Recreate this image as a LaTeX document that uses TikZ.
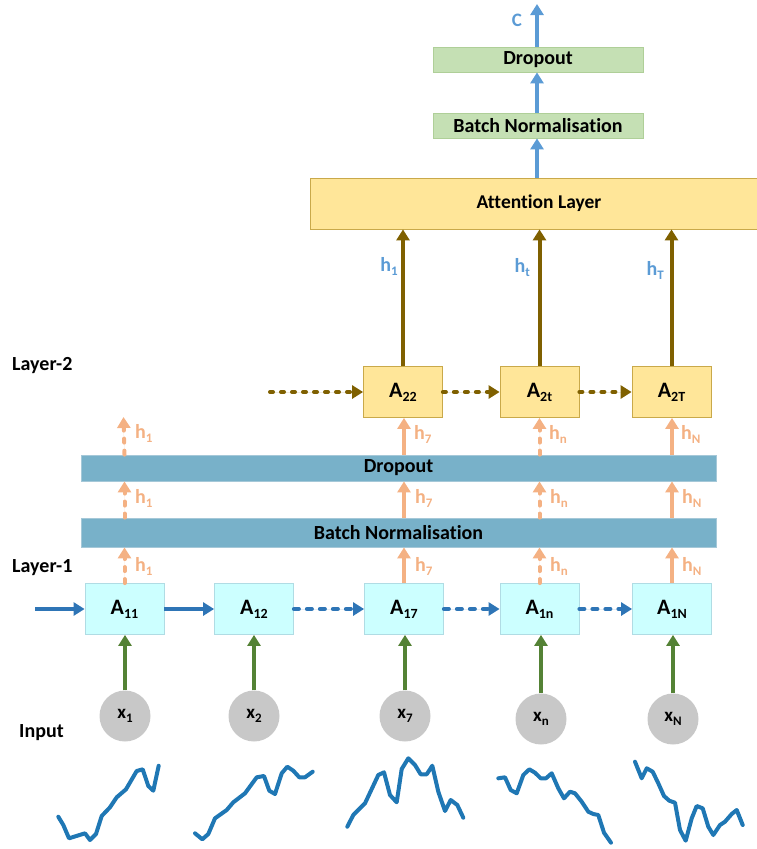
\documentclass[tikz,border=0pt]{standalone}
\usepackage{fontspec}
\setmainfont{Carlito}[Ligatures={NoCommon}]
\usetikzlibrary{arrows.meta}
\definecolor{grfill}{HTML}{C5E0B4}
\definecolor{grline}{HTML}{AFCF98}
\definecolor{ylfill}{HTML}{FFE699}
\definecolor{ylline}{HTML}{C9A94A}
\definecolor{barfill}{HTML}{78B1C9}
\definecolor{barline}{HTML}{A5C8D8}
\definecolor{cyfill}{HTML}{CCFFFF}
\definecolor{cyline}{HTML}{B0DCE4}
\definecolor{salmon}{HTML}{F4B183}
\definecolor{brownc}{HTML}{7F6000}
\definecolor{ltblue}{HTML}{5B9BD5}
\definecolor{dkblue}{HTML}{2E75B6}
\definecolor{grn}{HTML}{548235}
\definecolor{circfill}{HTML}{C8C8C8}
\definecolor{sig}{HTML}{1F77B4}
\newcommand{\lbl}[3]{#1\raisebox{-4pt}{\fontsize{#3}{#3}\selectfont #2}}
\tikzset{
  tip/.style={-{Triangle[length=11pt,width=13pt]}},
  greenbox/.style={draw=grline,line width=0.8pt,fill=grfill,minimum width=210pt,minimum height=25pt,inner sep=0pt,font=\fontsize{20}{24}\selectfont\bfseries},
  attbox/.style={draw=ylline,line width=0.8pt,fill=ylfill,minimum width=458pt,minimum height=51pt,inner sep=0pt,font=\fontsize{19.5}{23}\selectfont\bfseries},
  atwo/.style={draw=ylline,line width=0.8pt,fill=ylfill,minimum width=79pt,minimum height=51pt,inner sep=0pt,font=\fontsize{22}{26}\selectfont\bfseries},
  aone/.style={draw=cyline,line width=0.8pt,fill=cyfill,minimum width=79pt,minimum height=51pt,inner sep=0pt,font=\fontsize{22}{26}\selectfont\bfseries},
  bar/.style={draw=barline,line width=0.8pt,fill=barfill,minimum width=635pt,inner sep=0pt,font=\fontsize{20}{24}\selectfont\bfseries},
  inp/.style={circle,fill=circfill,minimum size=51pt,inner sep=0pt,font=\fontsize{19}{23}\selectfont\bfseries},
  sidelbl/.style={anchor=west,inner sep=0pt,font=\fontsize{20}{24}\selectfont\bfseries},
  hs/.style={inner sep=0pt,text=salmon,font=\fontsize{20}{24}\selectfont\bfseries,anchor=west},
  hb/.style={inner sep=0pt,text=ltblue,font=\fontsize{20}{24}\selectfont\bfseries,anchor=east},
  toparr/.style={tip,draw=ltblue,fill=ltblue,line width=4pt},
  brarr/.style={tip,draw=brownc,fill=brownc,line width=4pt},
  brdash/.style={brarr,dash pattern=on 3pt off 8pt,line cap=round},
  salarr/.style={tip,draw=salmon,fill=salmon,line width=4pt},
  saldash/.style={salarr,dash pattern=on 4pt off 8pt,line cap=round},
  blarr/.style={tip,draw=dkblue,fill=dkblue,line width=4pt},
  bldash/.style={blarr,dash pattern=on 5pt off 8pt,line cap=round},
  grarr/.style={tip,draw=grn,fill=grn,line width=4pt},
  signal/.style={draw=sig,line width=4pt,line join=round,line cap=round}
}
\begin{document}
\begin{tikzpicture}[x=1pt,y=-1pt]
\useasboundingbox (0,0) rectangle (757,849);
% top
\node[greenbox] (do2) at (538,59.5) {Dropout};
\node[greenbox] (bn2) at (538,125.5) {Batch Normalisation};
\node[attbox] (att) at (539,203.5) {Attention Layer};
\coordinate (ctop) at (537,4);
\node[inner sep=0pt,text=ltblue,font=\fontsize{19}{23}\selectfont\bfseries] (clbl) at (517,20) {C};
\draw[toparr] (do2.north -| ctop) -- (ctop);
\draw[toparr] (bn2.north -| ctop) -- (do2.south -| ctop);
\draw[toparr] (att.north -| ctop) -- (bn2.south -| ctop);
% layer 2
\node[atwo] (a22) at (403,392) {\lbl{A}{22}{14}};
\node[atwo] (a2t) at (539.5,392) {\lbl{A}{2t}{14}};
\node[atwo] (a2T) at (671.5,392) {\lbl{A}{2T}{14}};
\draw[brarr] (a22.north) -- (a22.north |- att.south);
\draw[brarr] (a2t.north) -- (a2t.north |- att.south);
\draw[brarr] (a2T.north) -- (a2T.north |- att.south);
\node[hb] (hb1) at (398,266) {\lbl{h}{1}{13}};
\node[hb] (hbt) at (530,268) {\lbl{h}{t}{13}};
\node[hb] (hbT) at (664,270) {\lbl{h}{T}{13}};
\coordinate (s2) at (270,392);
\draw[brdash] (s2) -- (a22.west);
\draw[brdash] (a22.east) -- (a2t.west);
\draw[brdash] (a2t.east) -- (a2T.west);
\node[sidelbl] (l2) at (12,366) {Layer-2};
% bars
\node[bar,minimum height=26pt] (do) at (398.5,468) {Dropout};
\node[bar,minimum height=29pt] (bn) at (398.5,532.5) {Batch Normalisation};
% layer 1
\node[aone] (a11) at (124.5,609) {\lbl{A}{11}{14}};
\node[aone] (a12) at (254,609) {\lbl{A}{12}{14}};
\node[aone] (a17) at (404,609) {\lbl{A}{17}{14}};
\node[aone] (a1n) at (539.5,609) {\lbl{A}{1n}{14}};
\node[aone] (a1N) at (672,609) {\lbl{A}{1N}{14}};
\node[sidelbl] (l1) at (12,568) {Layer-1};
\coordinate (s1) at (35,609);
\draw[blarr] (s1) -- (a11.west);
\draw[blarr] (a11.east) -- (a12.west);
\draw[bldash] (a12.east) -- (a17.west);
\draw[bldash] (a17.east) -- (a1n.west);
\draw[bldash] (a1n.east) -- (a1N.west);
% salmon arrows column 1
\coordinate (h1top) at (123.5,417);
\draw[saldash] (a11.north) -- (a11.north |- bn.south);
\draw[saldash] (a11.north |- bn.north) -- (a11.north |- do.south);
\draw[saldash] (a11.north |- do.north) -- (h1top);
\node[hs] (s11) at (135,566) {\lbl{h}{1}{13}};
\node[hs] (s12) at (135,498) {\lbl{h}{1}{13}};
\node[hs] (s13) at (135,433) {\lbl{h}{1}{13}};
% column 7
\draw[salarr] (a17.north) -- (a17.north |- bn.south);
\draw[salarr] (a17.north |- bn.north) -- (a17.north |- do.south);
\draw[salarr] (a17.north |- do.north) -- (a17.north |- a22.south);
\node[hs] (s71) at (415,566) {\lbl{h}{7}{13}};
\node[hs] (s72) at (415,498) {\lbl{h}{7}{13}};
\node[hs] (s73) at (414,434) {\lbl{h}{7}{13}};
% column n
\draw[saldash] (a1n.north) -- (a1n.north |- bn.south);
\draw[saldash] (a1n.north |- bn.north) -- (a1n.north |- do.south);
\draw[saldash] (a1n.north |- do.north) -- (a1n.north |- a2t.south);
\node[hs] (sn1) at (550,566) {\lbl{h}{n}{13}};
\node[hs] (sn2) at (550,498) {\lbl{h}{n}{13}};
\node[hs] (sn3) at (549,434) {\lbl{h}{n}{13}};
% column N
\draw[salarr] (a1N.north) -- (a1N.north |- bn.south);
\draw[salarr] (a1N.north |- bn.north) -- (a1N.north |- do.south);
\draw[salarr] (a1N.north |- do.north) -- (a1N.north |- a2T.south);
\node[hs] (sN1) at (682,566) {\lbl{h}{N}{13}};
\node[hs] (sN2) at (682,498) {\lbl{h}{N}{13}};
\node[hs] (sN3) at (681,434) {\lbl{h}{N}{13}};
% inputs
\node[inp] (x1) at (125,716) {\lbl{x}{1}{13}};
\node[inp] (x2) at (254,716) {\lbl{x}{2}{13}};
\node[inp] (x7) at (405,716) {\lbl{x}{7}{13}};
\node[inp] (xn) at (541,719) {\lbl{x}{n}{13}};
\node[inp] (xN) at (673,719) {\lbl{x}{N}{13}};
\draw[grarr] (x1.north) -- (x1.north |- a11.south);
\draw[grarr] (x2.north) -- (x2.north |- a12.south);
\draw[grarr] (x7.north) -- (x7.north |- a17.south);
\draw[grarr] (xn.north) -- (xn.north |- a1n.south);
\draw[grarr] (xN.north) -- (xN.north |- a1N.south);
\node[sidelbl] (lin) at (19,733) {Input};
% signals
\draw[signal] plot coordinates {(58.3,816.7) (63.3,825) (69,838.3) (85,833.3) (90,840) (96,834) (101.7,816) (110,807.3) (116.7,797.3) (126,789.3) (136.7,771) (142.7,769.3) (148.3,786) (153.3,790.7) (158.7,765.7)};
\draw[signal] plot coordinates {(195,833.3) (202.3,839.3) (208.3,834) (215,818.3) (226.7,810) (233.3,802.3) (245,793.3) (256.7,777.3) (264,776) (269.3,790.7) (275,794) (281.7,773.3) (287.3,766.7) (293.3,770.7) (299.3,777.3) (305,777.3) (312.7,771.7)};
\draw[signal] plot coordinates {(347.3,826.7) (353.3,815) (365,803.3) (378.3,775) (384,772.3) (390,795) (396.7,802.3) (401.7,769) (408.3,758.3) (415,765) (420.7,774.3) (426.7,774.3) (432.3,765.7) (438.3,791.7) (445,811) (450.7,800) (457.3,805) (463.3,817.7)};
\draw[signal] plot coordinates {(498.3,778.3) (505,777.3) (510.7,790) (516.7,793.3) (523.3,775) (529.3,769.3) (535,772.7) (540.7,778.3) (546,778.3) (551.7,773.3) (558.3,788.3) (564,798.3) (570,791.7) (575,793.3) (581.7,801.7) (588.3,811.7) (593.3,814) (598.3,815) (604,832.7) (611,842.7)};
\draw[signal] plot coordinates {(635,761.7) (641.7,778.3) (646.7,768.3) (652.7,771.7) (658.3,783.3) (664,796) (669.3,800.7) (675,802.7) (680,830) (685.7,840.7) (691.7,818.3) (696.7,806) (702.7,808.3) (708.3,826.7) (713.3,835) (720,825) (725,821.7) (731.7,814) (736.7,810) (742.7,825)};
\end{tikzpicture}
\end{document}
